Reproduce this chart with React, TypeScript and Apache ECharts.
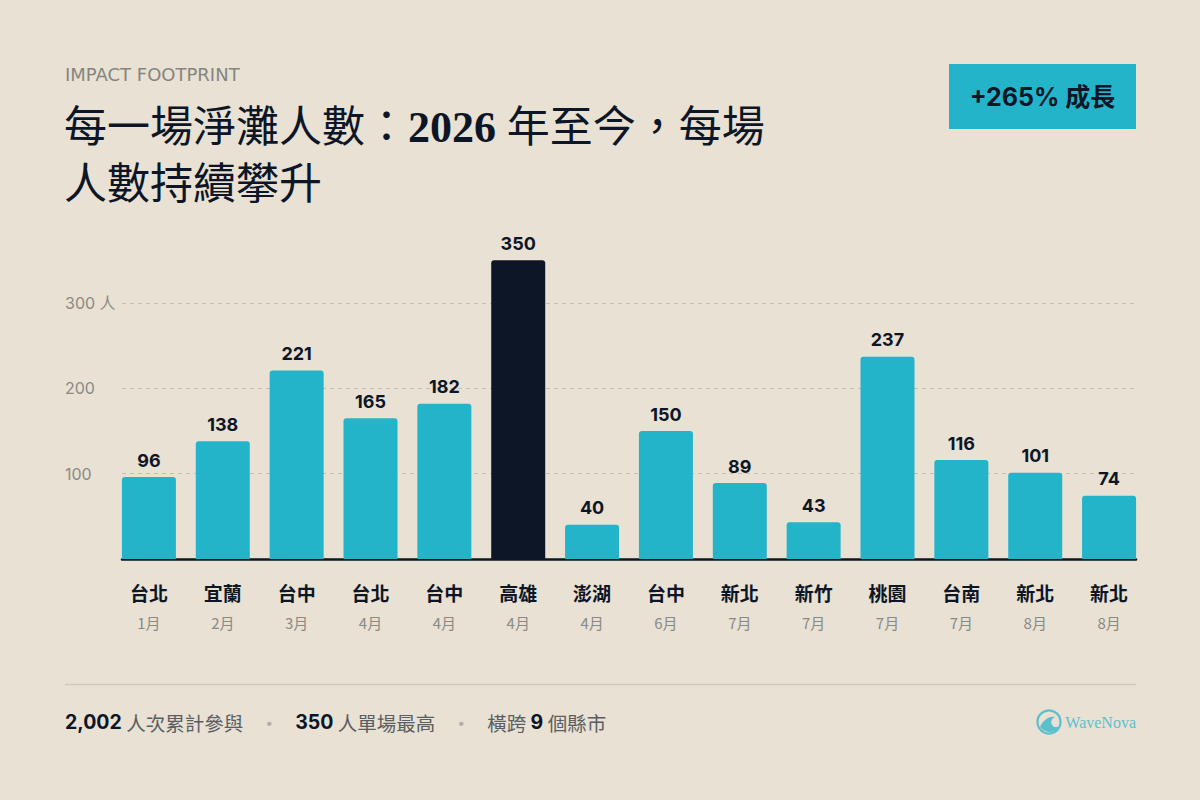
import React, { useEffect, useRef } from "react";
import * as echarts from "echarts";

const cities = ["台北", "宜蘭", "台中", "台北", "台中", "高雄", "澎湖", "台中", "新北", "新竹", "桃園", "台南", "新北", "新北"];
const months = ["1月", "2月", "3月", "4月", "4月", "4月", "4月", "6月", "7月", "7月", "7月", "7月", "8月", "8月"];
const attendees = [96, 138, 221, 165, 182, 350, 40, 150, 89, 43, 237, 116, 101, 74];
const yMax = 350;
const yInterval = 100;
const yUnit = "人";

const BG = "#e8e1d4";
const TEAL = "#24b4ca";
const DARK = "#0c1626";
const GRAY = "#8a8a85";
const SANS = "Inter, 'Noto Sans CJK TC', sans-serif";
const CJK = "'Noto Sans CJK TC', Inter, sans-serif";
const SERIF = "'Liberation Serif', 'DejaVu Serif', 'Noto Sans CJK TC', serif";

echarts.graphic.registerShape(
  "waveLogo",
  echarts.graphic.extendPath(
    "M -9 5 C -6 -1 -1 -6 6 -5 C 2 -3 1 1 4 4 C 6 6 9 5 10 4 C 8 9 3 11 -1 10 C -5 9 -7 7 -9 5 Z",
    {}
  )
);

export default function App() {
  const ref = useRef<HTMLDivElement>(null);
  useEffect(() => {
    document.body.style.margin = "0";
    const chart = echarts.init(ref.current!, undefined, { renderer: "svg" });
    const maxVal = Math.max(...attendees);
    const top = 559 - yMax * 0.8533;
    chart.setOption({
      animation: false,
      backgroundColor: BG,
      grid: [
        { left: 112, right: 54, top, bottom: 241 },
        { left: 122, right: 64, top, bottom: 241 },
      ],
      xAxis: [
        {
          type: "category",
          gridIndex: 0,
          data: cities.map((c, i) => `${c} ${months[i]}`),
          axisLine: { show: false },
          axisTick: { show: false },
          axisLabel: {
            margin: 18,
            interval: 0,
            formatter: (_v: string, i: number) => `{c|${cities[i]}}\n{m|${months[i]}}`,
            rich: {
              c: { fontFamily: CJK, fontSize: 19, fontWeight: "bold", color: DARK, lineHeight: 30 },
              m: { fontFamily: CJK, fontSize: 15, color: GRAY, lineHeight: 30 },
            },
          },
        },
        {
          type: "value",
          gridIndex: 1,
          min: 0,
          max: 1,
          axisLine: { show: true, lineStyle: { color: DARK, width: 2.5 } },
          axisTick: { show: false },
          axisLabel: { show: false },
          splitLine: { show: false },
        },
      ],
      yAxis: [
        { type: "value", gridIndex: 0, min: 0, max: yMax, show: false },
        {
          type: "value",
          gridIndex: 1,
          min: 0,
          max: yMax,
          interval: yInterval,
          axisLine: { show: false },
          axisTick: { show: false },
          splitLine: {
            show: true,
            showMinLine: false,
            showMaxLine: false,
            lineStyle: { color: "#c4bfb2", type: [4, 4], width: 1 },
          },
          axisLabel: {
            showMinLabel: false,
            showMaxLabel: false,
            align: "left",
            margin: 57,
            color: GRAY,
            fontFamily: SANS,
            fontSize: 16,
            formatter: (v: number) => (v === 300 ? `${v} ${yUnit}` : `${v}`),
          },
        },
      ],
      series: [
        {
          type: "bar",
          xAxisIndex: 0,
          yAxisIndex: 0,
          barWidth: 54,
          z: 3,
          data: attendees.map((v) => ({
            value: v,
            itemStyle: { color: v === maxVal ? DARK : TEAL, borderRadius: [3, 3, 0, 0] },
          })),
          label: {
            show: true,
            position: "top",
            distance: 8,
            color: DARK,
            fontFamily: SANS,
            fontWeight: "bold",
            fontSize: 18,
          },
        },
      ],
      graphic: [
        {
          type: "text",
          x: 65,
          y: 74,
          style: {
            text: "IMPACT FOOTPRINT",
            fill: "#85857f",
            font: `400 18px 'DejaVu Sans', sans-serif`,
            textVerticalAlign: "middle",
          },
        },
        {
          type: "text",
          x: 64,
          y: 127,
          style: {
            text: "{a|每一場淨灘人數：}{b|2026}{a| 年至今，每場}",
            textVerticalAlign: "middle",
            rich: {
              a: { fontFamily: SERIF, fontSize: 43, fill: DARK, fontWeight: 400 },
              b: { fontFamily: SERIF, fontSize: 44, fill: DARK, fontWeight: "bold" },
            },
          },
        },
        {
          type: "text",
          x: 64,
          y: 184,
          style: {
            text: "人數持續攀升",
            fill: DARK,
            font: `400 43px ${SERIF}`,
            textVerticalAlign: "middle",
          },
        },
        {
          type: "rect",
          shape: { x: 949, y: 64, width: 187, height: 65 },
          style: { fill: TEAL },
        },
        {
          type: "text",
          x: 1042.5,
          y: 97,
          style: {
            text: "+265% 成長",
            fill: DARK,
            font: `bold 25px ${SANS}`,
            textAlign: "center",
            textVerticalAlign: "middle",
          },
        },
        {
          type: "line",
          shape: { x1: 65, y1: 684.5, x2: 1136, y2: 684.5 },
          style: { stroke: "#cfc9bb", lineWidth: 1.5 },
        },
        {
          type: "text",
          x: 65,
          y: 722,
          style: {
            text: "{b|2,002}{g| 人次累計參與}{d|•}{b|350}{g| 人單場最高}{d|•}{g|橫跨 }{b|9}{g| 個縣市}",
            textVerticalAlign: "middle",
            rich: {
              b: { fontFamily: SANS, fontSize: 19.5, fontWeight: "bold", fill: DARK },
              g: { fontFamily: CJK, fontSize: 19.5, fill: "#5a5d62" },
              d: { fontFamily: SANS, fontSize: 14, fill: "#b3afa6", width: 52, align: "center" },
            },
          },
        },
        {
          type: "circle",
          shape: { cx: 1049, cy: 722, r: 11.5 },
          style: { fill: "none", stroke: "#5cc0cc", lineWidth: 2.2 },
        },
        {
          type: "waveLogo",
          x: 1049,
          y: 722,
          scaleX: 1,
          scaleY: 1,
          style: { fill: "#5cc0cc" },
        },
        {
          type: "text",
          x: 1136,
          y: 722,
          style: {
            text: "WaveNova",
            fill: "#5cc0cc",
            font: `400 16px ${SERIF}`,
            textAlign: "right",
            textVerticalAlign: "middle",
          },
        },
      ],
    });
    return () => chart.dispose();
  }, []);
  return (
    <div
      ref={ref}
      style={{ position: "absolute", left: 0, top: 0, width: 1200, height: 800, background: BG }}
    />
  );
}
